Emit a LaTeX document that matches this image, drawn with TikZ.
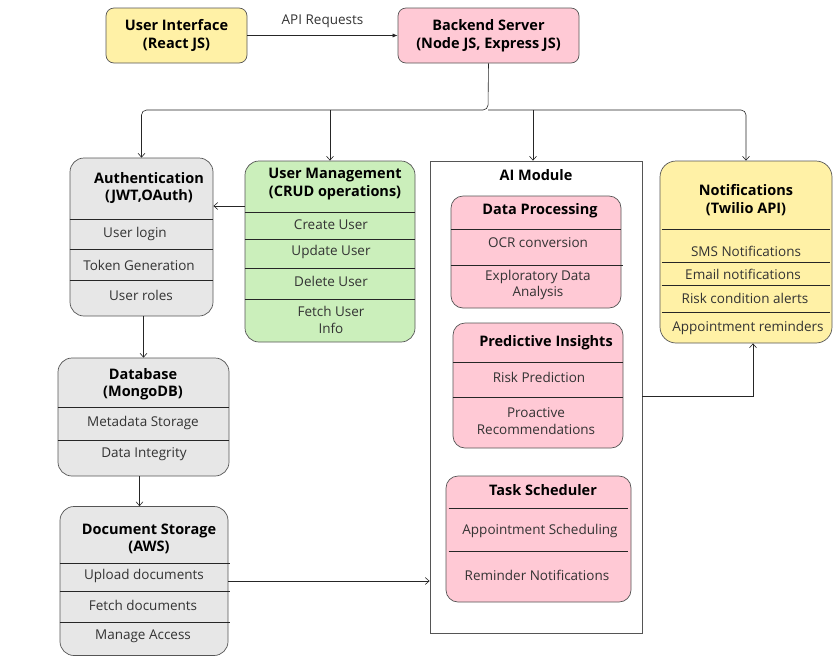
\documentclass[tikz,border=0pt]{standalone}
\usepackage{fontspec}
\setmainfont{Open Sans}
\usepackage{tikz,xcolor}
\usetikzlibrary{arrows.meta}
\definecolor{uiyellow}{HTML}{FFF1A6}
\definecolor{srvpink}{HTML}{FFC9D5}
\definecolor{boxgray}{HTML}{E7E7E7}
\definecolor{umgreen}{HTML}{CBEFBB}
\definecolor{edgegray}{HTML}{555555}
\definecolor{textgray}{HTML}{333333}
\newcommand{\headfont}{\fontsize{14.5}{17.5}\selectfont\bfseries}
\newcommand{\itemfont}{\fontsize{13.5}{16.5}\selectfont}
\begin{document}
\begin{tikzpicture}[x=1pt,y=-1pt,
 box/.style={draw=edgegray,line width=0.7pt,rounded corners=14pt},
 head/.style={font=\headfont,align=center,text=black},
 item/.style={font=\itemfont,align=center,text=textgray},
 divider/.style={draw=black!85,line width=0.9pt},
 arr/.style={draw=black!85,line width=0.6pt,-{Straight Barb[length=4pt,width=7pt]}}]
\useasboundingbox (0,0) rectangle (833,657);
% top row
\node[box,head,rounded corners=8pt,fill=uiyellow,minimum width=141pt,minimum height=55pt] (ui) at (176.5,35.5) {User Interface\\(React JS)};
\node[box,head,rounded corners=8pt,fill=srvpink,minimum width=181pt,minimum height=55pt] (backend) at (488.5,35.5) {Backend Server\\(Node JS, Express JS)};
\draw[draw=black!85,line width=0.6pt,-{Latex[length=5pt,width=4pt]}] (ui.east) -- (backend.west) node[item,midway,above=4pt] (apireq) {API Requests};
% authentication
\node[box,fill=boxgray,minimum width=143pt,minimum height=158pt] (auth) at (141.5,237) {};
\node[head] (authh) at (149,188) {Authentication\\(JWT,OAuth)};
\draw[divider] (auth.west |- 0,219) -- (auth.east |- 0,219);
\draw[divider] (auth.west |- 0,249) -- (auth.east |- 0,249);
\draw[divider] (auth.west |- 0,280) -- (auth.east |- 0,280);
\node[item] (auth1) at (135,234) {User login};
\node[item] (auth2) at (139,265) {Token Generation};
\node[item] (auth3) at (141,295) {User roles};
% user management
\node[box,fill=umgreen,minimum width=170pt,minimum height=181pt] (um) at (330,251.5) {};
\node[head] (umh) at (335,184) {User Management\\(CRUD operations)};
\draw[divider] (um.west |- 0,212) -- (um.east |- 0,212);
\draw[divider] (um.west |- 0,239) -- (um.east |- 0,239);
\draw[divider] (um.west |- 0,268) -- (um.east |- 0,268);
\draw[divider] (um.west |- 0,299) -- (um.east |- 0,299);
\node[item] (um1) at (331,225) {Create User};
\node[item] (um2) at (331,252) {Update User};
\node[item] (um3) at (331,281) {Delete User};
\node[item] (um4) at (331,320) {Fetch User\\Info};
% database
\node[box,fill=boxgray,minimum width=171pt,minimum height=118pt] (db) at (143.5,417) {};
\node[head] (dbh) at (143,384) {Database\\(MongoDB)};
\draw[divider] (db.west |- 0,407) -- (db.east |- 0,407);
\draw[divider] (db.west |- 0,440) -- (db.east |- 0,440);
\node[item] (db1) at (143,423) {Metadata Storage};
\node[item] (db2) at (144,454) {Data Integrity};
% document storage
\node[box,fill=boxgray,minimum width=168pt,minimum height=149pt] (doc) at (144,581) {};
\node[head] (doch) at (149,539) {Document Storage\\(AWS)};
\draw[divider] (doc.west |- 0,563) -- ([xshift=2pt]doc.east |- 0,563);
\draw[divider] (doc.west |- 0,591) -- ([xshift=2pt]doc.east |- 0,591);
\draw[divider] (doc.west |- 0,622) -- ([xshift=2pt]doc.east |- 0,622);
\node[item] (doc1) at (144,576) {Upload documents};
\node[item] (doc2) at (143,605) {Fetch documents};
\node[item] (doc3) at (143,636) {Manage Access};
% AI module
\node[draw=edgegray,line width=0.7pt,minimum width=212pt,minimum height=472pt] (aimod) at (536,397) {};
\node[head] (aimodh) at (536,175) {AI Module};
\node[box,fill=srvpink,rounded corners=12pt,minimum width=170pt,minimum height=112pt] (dp) at (536,252) {};
\node[head] (dph) at (540,211) {Data Processing};
\draw[divider] (dp.west |- 0,229) -- (dp.east |- 0,229);
\draw[divider] (dp.west |- 0,265) -- ([xshift=2pt]dp.east |- 0,265);
\node[item] (dp1) at (538,243) {OCR conversion};
\node[item] (dp2) at (538,285) {Exploratory Data\\Analysis};
\node[box,fill=srvpink,rounded corners=12pt,minimum width=170pt,minimum height=125pt] (pi) at (538,385.5) {};
\node[head] (pih) at (546,343) {Predictive Insights};
\draw[divider] (pi.west |- 0,362) -- (pi.east |- 0,362);
\draw[divider] (pi.west |- 0,397) -- (pi.east |- 0,397);
\node[item] (pi1) at (539,377) {Risk Prediction};
\node[item] (pi2) at (536,421) {Proactive\\Recommendations};
\node[box,fill=srvpink,rounded corners=12pt,minimum width=185pt,minimum height=126pt] (ts) at (538.5,539) {};
\node[head] (tsh) at (543,490) {Task Scheduler};
\draw[divider] ([xshift=3pt]ts.west |- 0,508) -- ([xshift=-3pt]ts.east |- 0,508);
\draw[divider] ([xshift=3pt]ts.west |- 0,551) -- ([xshift=-3pt]ts.east |- 0,551);
\node[item] (ts1) at (540,531) {Appointment Scheduling};
\node[item] (ts2) at (537,575) {Reminder Notifications};
% notifications
\node[box,fill=uiyellow,rounded corners=16pt,minimum width=172pt,minimum height=182pt] (notif) at (746,252) {};
\node[head] (notifh) at (746,200) {Notifications\\(Twilio API)};
\draw[divider] ([xshift=2pt]notif.west |- 0,229) -- ([xshift=-2pt]notif.east |- 0,229);
\draw[divider] ([xshift=2pt]notif.west |- 0,262) -- ([xshift=-2pt]notif.east |- 0,262);
\draw[divider] ([xshift=2pt]notif.west |- 0,285) -- ([xshift=-2pt]notif.east |- 0,285);
\draw[divider] ([xshift=2pt]notif.west |- 0,312) -- ([xshift=-2pt]notif.east |- 0,312);
\node[item] (notif1) at (746,251) {SMS Notifications};
\node[item] (notif2) at (743,274) {Email notifications};
\node[item] (notif3) at (745,298) {Risk condition alerts};
\node[item] (notif4) at (748,328) {Appointment reminders};
% connectors
\coordinate (bus) at (488,110);
\draw[arr,rounded corners=5pt] (backend.south) -- (bus) -| (auth.north);
\draw[arr,rounded corners=5pt] (bus) -| (notif.north);
\draw[arr] (um.north |- bus) -- (um.north);
\draw[arr] ([xshift=-3pt]aimod.north |- bus) -- ([xshift=-3pt]aimod.north);
\draw[arr] (um.west |- 0,206) -- (auth.east |- 0,206);
\draw[arr] ([xshift=2pt]auth.south) -- ([xshift=2pt]auth.south |- db.north);
\draw[arr] ([xshift=-4pt]db.south) -- ([xshift=-4pt]db.south |- doc.north);
\draw[arr] (doc.east) -- (doc.east -| aimod.west);
\draw[arr] (aimod.east |- 0,396) -| ([xshift=7pt]notif.south);
\end{tikzpicture}
\end{document}
